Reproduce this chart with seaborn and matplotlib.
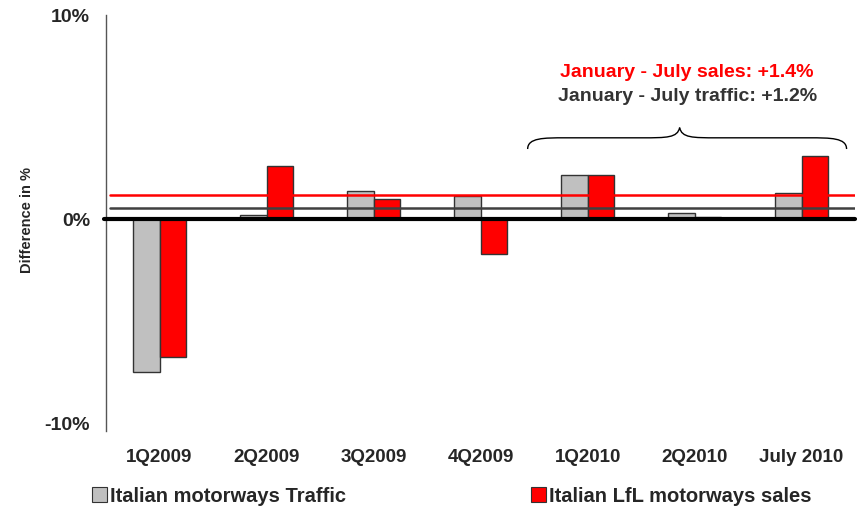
import matplotlib
matplotlib.use("Agg")
import matplotlib.pyplot as plt
from matplotlib.path import Path
from matplotlib.patches import PathPatch, Patch
import numpy as np
import pandas as pd
import seaborn as sns

# Quarterly change vs previous year, in %
periods = ["1Q2009", "2Q2009", "3Q2009", "4Q2009", "1Q2010", "2Q2010", "July 2010"]
traffic = [-7.5, 0.2, 1.4, 1.15, 2.2, 0.3, 1.3]
sales = [-6.75, 2.6, 1.0, -1.7, 2.2, 0.1, 3.1]
series_names = ["Italian motorways Traffic", "Italian LfL motorways sales"]
sales_ref_line = 1.2
traffic_ref_line = 0.55
yticks = [-10, 0, 10]
ytick_labels = ["-10%", "0%", "10%"]
note_sales = "January - July sales: +1.4%"
note_traffic = "January - July traffic: +1.2%"

sns.set_theme(style="white")
plt.rcParams["font.family"] = ["Liberation Sans", "DejaVu Sans"]
plt.rcParams["font.weight"] = "bold"

df = pd.DataFrame({
    "period": periods * 2,
    "value": traffic + sales,
    "series": [series_names[0]] * len(periods) + [series_names[1]] * len(periods),
})
palette = {series_names[0]: "#C0C0C0", series_names[1]: "#FF0000"}

fig = plt.figure(figsize=(8.67, 5.07), dpi=100)
ax = fig.add_axes([0.1223, 0.149, 0.864, 0.8205])

sns.barplot(data=df, x="period", y="value", hue="series", order=periods,
            hue_order=series_names, palette=palette, width=0.5, gap=0,
            edgecolor="#333333", linewidth=1.0, saturation=1, legend=False, ax=ax)

ax.set_xlim(-0.5, len(periods) - 0.5)
ax.set_ylim(-10.4, 10)

# reference lines and zero axis
ax.axhline(sales_ref_line, xmin=0.005, xmax=1, color="#FF0000", lw=1.8, zorder=4)
ax.axhline(traffic_ref_line, xmin=0.005, xmax=1, color="#404040", lw=1.8, zorder=4)
ax.axhline(0, xmin=-0.003, xmax=1.0, color="black", lw=3, zorder=5, clip_on=False)

for s in ["top", "right", "bottom"]:
    ax.spines[s].set_visible(False)
ax.spines["left"].set_color("#555555")
ax.spines["left"].set_linewidth(1.0)

ax.set_yticks(yticks)
ax.set_yticklabels(ytick_labels, fontsize=14, fontweight="bold")
ax.tick_params(axis="y", length=0, pad=11.5)
ax.tick_params(axis="x", length=0, pad=12.5)
for lab in ax.get_xticklabels():
    lab.set_fontsize(13.5)
    lab.set_fontweight("bold")
ax.set_xlabel("")
ax.set_ylabel("Difference in %", fontsize=10.5, fontweight="bold")
ax.yaxis.set_label_coords(-0.0965, 0.508)

# annotation text
ax.text(4.93, 7.2, note_sales, color="#FF0000", fontsize=14, fontweight="bold",
        ha="center", va="center")
ax.text(4.93, 6.05, note_traffic, color="#333333", fontsize=14, fontweight="bold",
        ha="center", va="center")

# curly brace above the 2010 periods
x0, x1, xm = 3.44, 6.42, 4.86
yb, ym, yt = 3.45, 4.0, 4.5
verts = [
    (x0, yb), (x0, ym), (x0 + 0.15, ym), (x0 + 0.35, ym),
    (xm - 0.35, ym),
    (xm - 0.12, ym), (xm - 0.02, ym), (xm, yt),
    (xm + 0.02, ym), (xm + 0.12, ym), (xm + 0.35, ym),
    (x1 - 0.35, ym),
    (x1 - 0.15, ym), (x1, ym), (x1, yb),
]
codes = [Path.MOVETO, Path.CURVE4, Path.CURVE4, Path.CURVE4,
         Path.LINETO,
         Path.CURVE4, Path.CURVE4, Path.CURVE4,
         Path.CURVE4, Path.CURVE4, Path.CURVE4,
         Path.LINETO,
         Path.CURVE4, Path.CURVE4, Path.CURVE4]
ax.add_patch(PathPatch(Path(verts, codes), fill=False, lw=1.0, color="black"))

# legend
handles = [Patch(facecolor=palette[n], edgecolor="#333333", linewidth=0.8, label=n)
           for n in series_names]
fig.legend(handles=handles, loc="lower left", bbox_to_anchor=(0.085, -0.033), ncol=2,
           frameon=False, prop={"weight": "bold", "size": 14.5}, columnspacing=9.2,
           handlelength=0.75, handleheight=0.75, handletextpad=0.15)

fig.savefig("out.png", dpi=100)
